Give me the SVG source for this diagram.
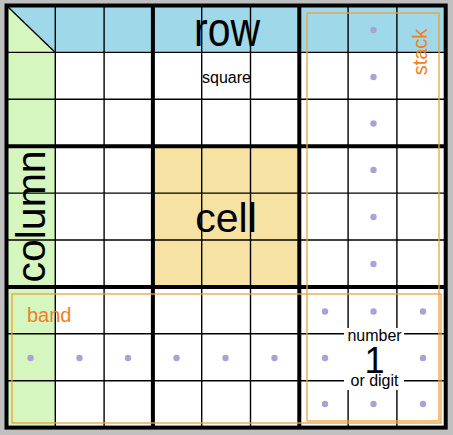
<svg xmlns="http://www.w3.org/2000/svg" width="453" height="435" viewBox="0 0 453 435">
<style>
.thin{stroke:#000;stroke-width:1.4;fill:none}
.thick{stroke:#000;stroke-width:4;fill:none}
.orng{stroke:#eda040;stroke-width:1.3;fill:none}
.dot{fill:#a9a2d6}
.big{font-family:"Liberation Sans",Arial,sans-serif;font-size:41px;fill:#000;text-anchor:middle}
.small{font-family:"Liberation Sans",Arial,sans-serif;font-size:16px;fill:#000;text-anchor:middle}
.olab{font-family:"Liberation Sans",Arial,sans-serif;font-size:20px;fill:#f08020}
</style>
<rect x="0" y="0" width="453" height="435" fill="#c0c0c0"/>
<g id="grid-fill">
<rect x="6.5" y="5.5" width="439.2" height="422.1" fill="#ffffff"/>
<rect id="row-fill" x="6.5" y="5.5" width="439.2" height="46.9" fill="#9fd8e8"/>
<rect id="column-fill" x="6.5" y="52.4" width="48.8" height="375.2" fill="#d6f6bf"/>
<polygon points="6.5,5.5 55.3,52.4 6.5,52.4" fill="#d6f6bf"/>
<rect id="cell-fill" x="152.9" y="146.2" width="146.4" height="140.7" fill="#f6e2a2"/>
</g>
<g id="grid-lines">
<line class="thin" x1="6.5" y1="5.5" x2="55.3" y2="52.4"/>
<line class="thin" x1="55.3" y1="5.5" x2="55.3" y2="427.6"/>
<line class="thin" x1="104.1" y1="5.5" x2="104.1" y2="427.6"/>
<line class="thin" x1="201.7" y1="5.5" x2="201.7" y2="427.6"/>
<line class="thin" x1="250.5" y1="5.5" x2="250.5" y2="427.6"/>
<line class="thin" x1="348.1" y1="5.5" x2="348.1" y2="427.6"/>
<line class="thin" x1="396.9" y1="5.5" x2="396.9" y2="427.6"/>
<line class="thin" x1="6.5" y1="52.4" x2="445.7" y2="52.4"/>
<line class="thin" x1="6.5" y1="99.3" x2="445.7" y2="99.3"/>
<line class="thin" x1="6.5" y1="193.1" x2="445.7" y2="193.1"/>
<line class="thin" x1="6.5" y1="240" x2="445.7" y2="240"/>
<line class="thin" x1="6.5" y1="333.8" x2="445.7" y2="333.8"/>
<line class="thin" x1="6.5" y1="380.7" x2="445.7" y2="380.7"/>
<line class="thick" x1="152.9" y1="5.5" x2="152.9" y2="427.6"/>
<line class="thick" x1="299.3" y1="5.5" x2="299.3" y2="427.6"/>
<line class="thick" x1="6.5" y1="146.2" x2="445.7" y2="146.2"/>
<line class="thick" x1="6.5" y1="286.9" x2="445.7" y2="286.9"/>
<rect class="thick" x="6.5" y="5.5" width="439.2" height="422.1"/>
</g>
<g id="stack">
<rect class="orng" x="307" y="13" width="132" height="408"/>
<circle class="dot" cx="373.5" cy="30" r="3.2"/>
<circle class="dot" cx="373.5" cy="77" r="3.2"/>
<circle class="dot" cx="373.5" cy="123.5" r="3.2"/>
<circle class="dot" cx="373.5" cy="170" r="3.2"/>
<circle class="dot" cx="373.5" cy="217" r="3.2"/>
<circle class="dot" cx="373.5" cy="264" r="3.2"/>
<text class="olab" transform="translate(427,52) rotate(-90)" text-anchor="middle">stack</text>
</g>
<g id="band">
<rect class="orng" x="12" y="294" width="429" height="129"/>
<circle class="dot" cx="30.5" cy="358" r="3.2"/>
<circle class="dot" cx="79.5" cy="358" r="3.2"/>
<circle class="dot" cx="128" cy="358" r="3.2"/>
<circle class="dot" cx="176.5" cy="358" r="3.2"/>
<circle class="dot" cx="225.5" cy="358" r="3.2"/>
<circle class="dot" cx="274.5" cy="358" r="3.2"/>
<text class="olab" x="27" y="322">band</text>
</g>
<g id="box">
<circle class="dot" cx="325" cy="311.5" r="3.2"/>
<circle class="dot" cx="373.5" cy="311.5" r="3.2"/>
<circle class="dot" cx="423" cy="311.5" r="3.2"/>
<circle class="dot" cx="325" cy="358" r="3.2"/>
<circle class="dot" cx="423" cy="358" r="3.2"/>
<circle class="dot" cx="325" cy="404" r="3.2"/>
<circle class="dot" cx="373.5" cy="404" r="3.2"/>
<circle class="dot" cx="423" cy="404" r="3.2"/>
</g>
<g id="row">
<text class="big" transform="translate(227,45.5) scale(1,1.17)">row</text>
</g>
<g id="square">
<text class="small" x="226.5" y="83">square</text>
</g>
<g id="cell">
<text class="big" x="226" y="232">cell</text>
</g>
<g id="column">
<text class="big" transform="translate(45,216.5) rotate(-90)">column</text>
</g>
<g id="number">
<rect x="344" y="328" width="60" height="62" fill="#ffffff"/>
<text class="small"><tspan x="374.5" y="341">number</tspan><tspan x="374.5" y="373" style="font-size:36px">1</tspan><tspan x="374.5" y="386">or digit</tspan></text>
</g>
</svg>
